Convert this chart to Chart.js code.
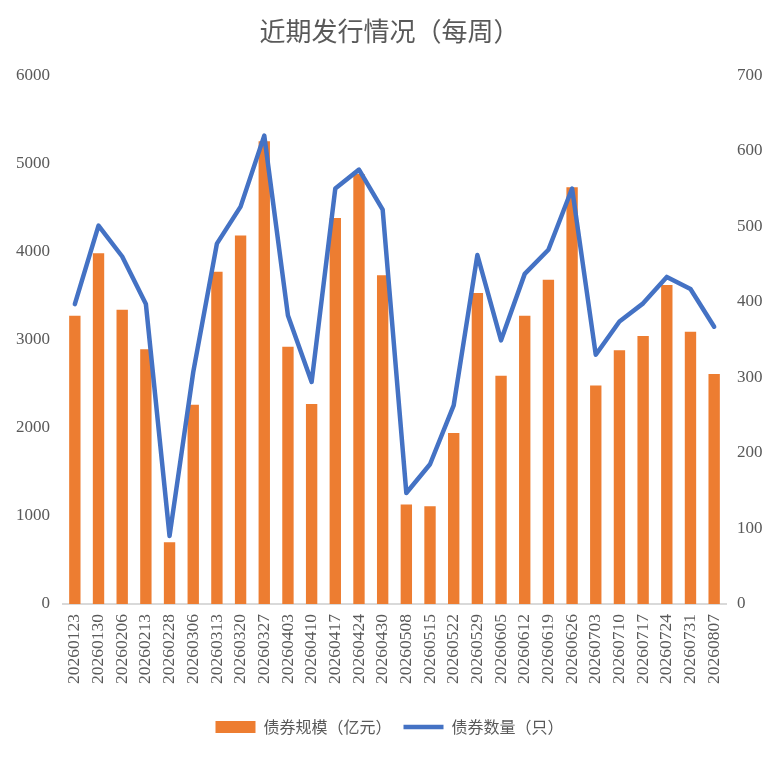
<!DOCTYPE html>
<html>
<head>
<meta charset="utf-8">
<title>近期发行情况（每周）</title>
<script src="https://cdn.jsdelivr.net/npm/chart.js@4.4.1/dist/chart.umd.min.js"></script>
<style>
  html, body { margin: 0; padding: 0; background: #fff; }
  .wrap { width: 779px; height: 757px; position: relative; }
</style>
</head>
<body>
<div class="wrap">
  <canvas id="issue-chart"></canvas>
</div>

<script>
  // weekly issuance
  const weeks = ["20260123", "20260130", "20260206", "20260213", "20260228", "20260306", "20260313",
    "20260320", "20260327", "20260403", "20260410", "20260417", "20260424", "20260430",
    "20260508", "20260515", "20260522", "20260529", "20260605", "20260612", "20260619",
    "20260626", "20260703", "20260710", "20260717", "20260724", "20260731", "20260807"];
  const scaleAmount = [3270, 3980, 3340, 2890, 700, 2260, 3770, 4180, 5250, 2920, 2270, 4380, 4880, 3730,
    1130, 1110, 1940, 3530, 2590, 3270, 3680, 4730, 2480, 2880, 3040, 3620, 3090, 2610];
  const bondCount = [397, 501, 460, 397, 90, 307, 477, 526, 620, 382, 294, 550, 575, 522,
    147, 185, 263, 462, 349, 437, 469, 550, 330, 374, 398, 433, 417, 367];
  const leftTicks = [0, 1000, 2000, 3000, 4000, 5000, 6000];
  const rightTicks = [0, 100, 200, 300, 400, 500, 600, 700];

  const grey = "#595959";
  const cjk = "'Noto Sans CJK SC', 'Noto Sans', sans-serif";
  const serif = "'Liberation Serif', 'DejaVu Serif', serif";

  new Chart(document.getElementById("issue-chart"), {
    type: "bar",
    data: {
      labels: weeks,
      datasets: [
        { type: "line", label: "债券数量（只）", data: bondCount, yAxisID: "y1",
          borderColor: "#4472C4", backgroundColor: "#4472C4", borderWidth: 4.5,
          pointRadius: 0, pointHoverRadius: 0, tension: 0,
          borderJoinStyle: "round", borderCapStyle: "round" },
        { type: "bar", label: "债券规模（亿元）", data: scaleAmount, yAxisID: "y",
          backgroundColor: "#ED7D31", borderWidth: 0,
          categoryPercentage: 1, barPercentage: 0.48 }
      ]
    },
    options: {
      responsive: true,
      maintainAspectRatio: false,
      animation: false,
      layout: { padding: { top: 0, bottom: 12, left: 0, right: 0 } },
      plugins: {
        title: { display: true, text: "近期发行情况（每周）", color: grey,
          font: { family: cjk, size: 26, weight: "normal" }, padding: { top: 16, bottom: 28 } },
        tooltip: { enabled: false },
        legend: {
          position: "bottom",
          labels: {
            color: grey, font: { family: cjk, size: 16 },
            usePointStyle: true, pointStyleWidth: 40, boxHeight: 12, padding: 12,
            generateLabels: chart => {
              const items = Chart.defaults.plugins.legend.labels.generateLabels(chart);
              items.forEach(it => {
                if (chart.data.datasets[it.datasetIndex].type === "bar") {
                  it.pointStyle = "rect"; it.lineWidth = 0;
                } else {
                  it.pointStyle = "line"; it.lineWidth = 4.5;
                }
              });
              // bar series first, like the reference
              return items.sort((a, b) => b.datasetIndex - a.datasetIndex);
            }
          }
        }
      },
      scales: {
        x: {
          grid: { display: false, drawTicks: false },
          border: { color: "#D9D9D9", width: 2 },
          ticks: { color: grey, font: { family: serif, size: 17.5 }, padding: 10,
            autoSkip: false, minRotation: 90, maxRotation: 90 },
          afterFit: s => { s.height = 103; }
        },
        y: {
          position: "left", min: 0, max: 6000,
          grid: { display: false, drawTicks: false },
          border: { display: false },
          afterBuildTicks: s => { s.ticks = leftTicks.map(v => ({ value: v })); },
          ticks: { color: grey, font: { family: serif, size: 17 }, padding: 13,
            callback: v => String(v) },
          afterFit: s => { s.width = 63; }
        },
        y1: {
          position: "right", min: 0, max: 700,
          grid: { display: false, drawTicks: false },
          border: { display: false },
          afterBuildTicks: s => { s.ticks = rightTicks.map(v => ({ value: v })); },
          ticks: { color: grey, font: { family: serif, size: 17 }, padding: 11,
            callback: v => String(v) },
          afterFit: s => { s.width = 53; }
        }
      }
    }
  });
</script>
</body>
</html>
